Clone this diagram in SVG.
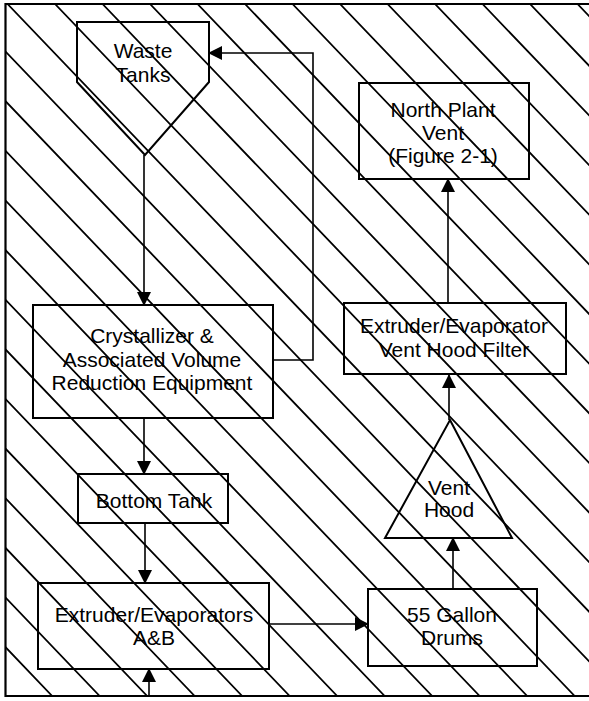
<svg xmlns="http://www.w3.org/2000/svg" width="589" height="701" viewBox="0 0 589 701">
<style>
.hatch{stroke:#000;stroke-width:1.8;fill:none}
.box{stroke:#000;stroke-width:2;fill:none}
.conn{stroke:#000;stroke-width:1.6;fill:none}
text{font-family:"Liberation Sans",Arial,sans-serif;font-size:21px;fill:#000;text-anchor:middle}
</style>
<defs>
<clipPath id="frame"><rect x="5.5" y="4" width="584" height="692"/></clipPath>
<marker id="arr" markerUnits="userSpaceOnUse" markerWidth="14" markerHeight="14" viewBox="0 0 14 14" refX="13" refY="7" orient="auto">
<path d="M0,0 L14,7 L0,14 Z" fill="#000"/>
</marker>
</defs>
<rect width="589" height="701" fill="#fff"/>
<g id="hatching" clip-path="url(#frame)">
<path class="hatch" d="M-610,4L52.2,696 M-562.5,4L99.7,696 M-515,4L147.2,696 M-467.5,4L194.7,696 M-420,4L242.2,696 M-372.5,4L289.7,696 M-325,4L337.2,696 M-277.5,4L384.7,696 M-230,4L432.2,696 M-182.5,4L479.7,696 M-135,4L527.2,696 M-87.5,4L574.7,696 M-40,4L622.2,696 M7.5,4L669.7,696 M55,4L717.2,696 M102.5,4L764.7,696 M150,4L812.2,696 M197.5,4L859.7,696 M245,4L907.2,696 M292.5,4L954.7,696 M340,4L1002.2,696 M387.5,4L1049.7,696 M435,4L1097.2,696 M482.5,4L1144.7,696 M530,4L1192.2,696 M577.5,4L1239.7,696"/>
</g>
<path id="frame-border" d="M589,4 H5.5 V696 H589" stroke="#000" stroke-width="2.2" fill="none"/>
<g id="connectors">
<path class="conn" d="M144,155 V305" marker-end="url(#arr)"/>
<path class="conn" d="M273,360 H313 V53 H209" marker-end="url(#arr)"/>
<path class="conn" d="M144,418 V474" marker-end="url(#arr)"/>
<path class="conn" d="M145,523 V583" marker-end="url(#arr)"/>
<path class="conn" d="M149,696 V669" marker-end="url(#arr)"/>
<path class="conn" d="M269,624 H368" marker-end="url(#arr)"/>
<path class="conn" d="M453,589 V538" marker-end="url(#arr)"/>
<path class="conn" d="M449,420 V375" marker-end="url(#arr)"/>
<path class="conn" d="M448,303 V179" marker-end="url(#arr)"/>
</g>
<g id="waste-tanks">
<path class="box" d="M77,22 H209 V82 L145,155 L77,82 Z"/>
<text x="143" y="58">Waste</text>
<text x="143" y="82">Tanks</text>
</g>
<g id="north-plant-vent">
<rect class="box" x="359" y="83" width="170" height="96"/>
<text x="443" y="117">North Plant</text>
<text x="443" y="140">Vent</text>
<text x="443" y="163">(Figure 2-1)</text>
</g>
<g id="crystallizer">
<rect class="box" x="33" y="305" width="240" height="113"/>
<text x="152" y="343">Crystallizer &amp;</text>
<text x="152" y="367">Associated Volume</text>
<text x="152" y="390">Reduction Equipment</text>
</g>
<g id="vent-hood-filter">
<rect class="box" x="344" y="303" width="222" height="71"/>
<text x="454" y="333">Extruder/Evaporator</text>
<text x="454" y="357">Vent Hood Filter</text>
</g>
<g id="vent-hood">
<path class="box" d="M450,420 L512,538 H385 Z"/>
<text x="449" y="495">Vent</text>
<text x="449" y="517">Hood</text>
</g>
<g id="bottom-tank">
<rect class="box" x="78" y="474" width="150" height="49"/>
<text x="154" y="508">Bottom Tank</text>
</g>
<g id="extruder-evaporators">
<rect class="box" x="38" y="583" width="231" height="86"/>
<text x="154" y="622">Extruder/Evaporators</text>
<text x="154" y="645">A&amp;B</text>
</g>
<g id="drums">
<rect class="box" x="368" y="589" width="169" height="77"/>
<text x="452" y="622">55 Gallon</text>
<text x="452" y="645">Drums</text>
</g>
</svg>
